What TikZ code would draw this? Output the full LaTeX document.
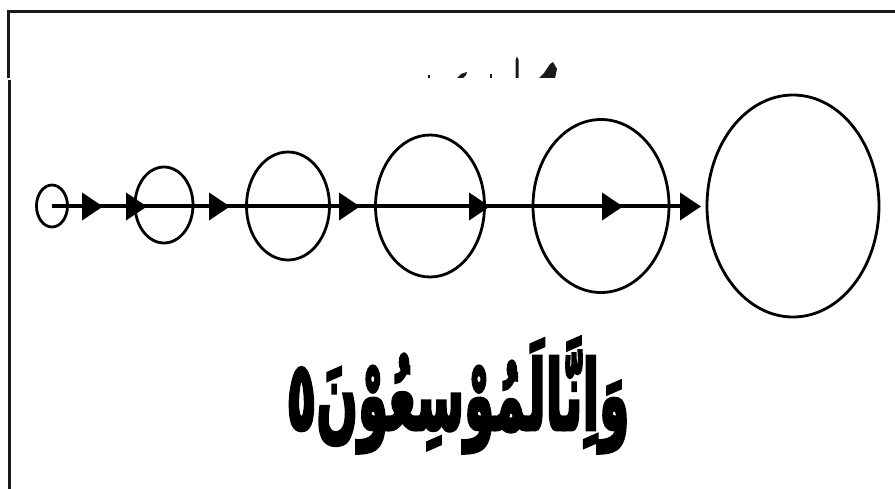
\documentclass[tikz,border=0pt]{standalone}
\usepackage{fontspec}
\usepackage{graphicx}
\newfontfamily\arabicfont[Script=Arabic, BoldFeatures={FakeBold=4}]{DejaVu Sans}
\TeXXeTstate=1
\usetikzlibrary{shapes.geometric,arrows.meta,decorations.markings}
\tikzset{
  ring/.style={ellipse, draw, line width=2.8pt, inner sep=0pt},
  frameline/.style={line width=3pt, black!90},
  frag/.style={fill=black!90, draw=none},
  flow/.style={line width=4pt, postaction={decorate}},
}
\begin{document}
\begin{tikzpicture}[x=1pt,y=-1pt]
\useasboundingbox (0,0) rectangle (895,489);
\fill[white] (0,0) rectangle (895,489);
% frame
\draw[frameline] (7,11.5) -- (895,11.5);
\draw[frameline] (8.5,10) -- (8.5,78);
\draw[frameline] (9.5,80) -- (9.5,489);
% clipped fragments at the top
\fill[frag] (427.5,75.5) rectangle (430,78);
\fill[frag] (457,78) -- (461,74) -- (467,72) -- (466,75) -- (463,78) -- cycle;
\fill[frag] (489.5,74.5) rectangle (491.5,78);
\fill[frag] (515.5,78) -- (515.5,60) -- (517,56.5) -- (518.7,60) -- (518.7,78) -- cycle;
\fill[frag] (539,78) -- (544,73) -- (550,64) -- (553,62) -- (557,69) -- (555,78) -- cycle;
% rings
\node[ring, minimum width=31pt, minimum height=42pt] (c1) at (52,206) {};
\node[ring, minimum width=58pt, minimum height=76pt] (c2) at (164,205) {};
\node[ring, minimum width=83pt, minimum height=108pt] (c3) at (288,206) {};
\node[ring, minimum width=109pt, minimum height=142pt] (c4) at (430,206) {};
\node[ring, minimum width=136pt, minimum height=173pt] (c5) at (601,206) {};
\node[ring, minimum width=172pt, minimum height=222pt] (c6) at (793,206) {};
\coordinate (tip) at (701,206.5);
% arrow line
\draw[flow, decoration={markings,
    mark=at position 51pt with {\arrow{Triangle[length=21pt,width=27pt]}},
    mark=at position 95pt with {\arrow{Triangle[length=21pt,width=27pt]}},
    mark=at position 178pt with {\arrow{Triangle[length=21pt,width=27pt]}},
    mark=at position 308pt with {\arrow{Triangle[length=21pt,width=27pt]}},
    mark=at position 438pt with {\arrow{Triangle[length=21pt,width=27pt]}},
    mark=at position 571pt with {\arrow{Triangle[length=21pt,width=27pt]}}},
    -{Triangle[length=21pt,width=27pt]}]
  (c1.center |- tip) -- (tip);
% caption
\node[inner sep=0pt, anchor=center] (verse) at (458,395)
  {\scalebox{0.61}[1.2]{\fontsize{80}{80}\selectfont\arabicfont\bfseries\beginR وَاِنَّالَمُوْسِعُوْنَ٥\endR}};
\end{tikzpicture}
\end{document}
